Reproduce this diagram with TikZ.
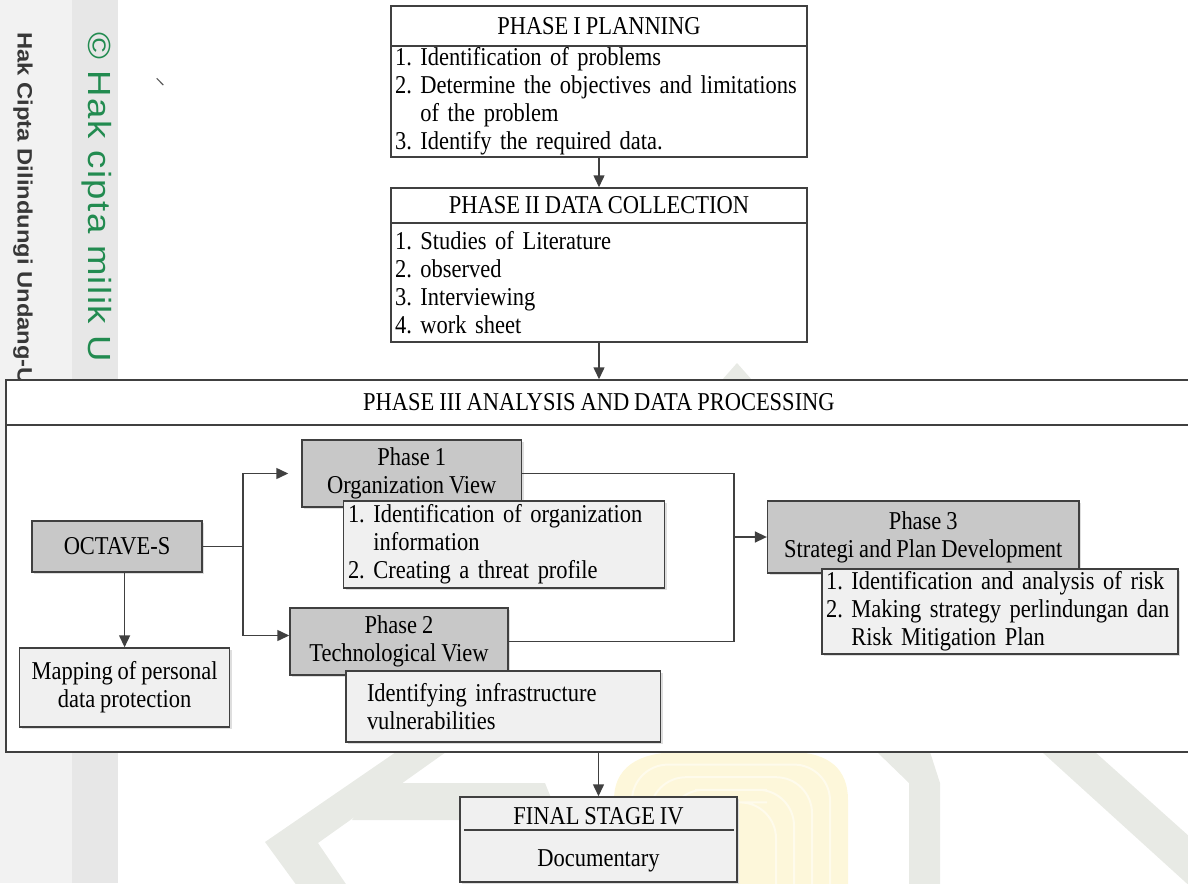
\documentclass[tikz,border=0pt]{standalone}
\usepackage{fontspec}
\setmainfont{Liberation Serif}[FakeStretch=0.875,WordSpace=0.875]
\newfontfamily\hakfont{Liberation Sans}[FakeStretch=1.143]
\newfontfamily\milikfont{Liberation Sans}[FakeStretch=1.143,LetterSpace=4.5]
\usetikzlibrary{arrows.meta,shadows,calc}
\frenchspacing

\definecolor{linegray}{HTML}{404040}
\definecolor{darkfill}{HTML}{C8C8C8}
\definecolor{lightfill}{HTML}{F0F0F0}
\definecolor{stripA}{HTML}{F2F2F2}
\definecolor{stripB}{HTML}{E7E7E7}
\definecolor{wmgray}{HTML}{E8EAE5}
\definecolor{wmyellow}{HTML}{FDF7DA}
\definecolor{hakgreen}{RGB}{34,139,80}

\tikzset{
  txt/.style={font=\fontsize{12.85}{14}\selectfont, text=black},
  box/.style={txt, draw=linegray, line width=0.75pt, inner sep=0pt},
  boxshadow/.style={drop shadow={shadow xshift=1.2pt, shadow yshift=-1.2pt, opacity=1, fill=black!13}},
  darkbox/.style={box, fill=darkfill, boxshadow, align=center},
  lightbox/.style={box, fill=lightfill, boxshadow},
  whitebox/.style={box, fill=white},
  arr/.style={draw=linegray, line width=0.75pt, -{Triangle[length=6pt,width=5.5pt]}},
  wire/.style={draw=linegray, line width=0.75pt},
}

\begin{document}
\begin{tikzpicture}[x=0.5pt, y=-0.5pt]
\path[use as bounding box, clip] (0,0) rectangle (1188,883);

%% watermark
\fill[stripA] (0,0) rectangle (72,883);
\fill[stripB] (72,0) rectangle (118,883);
\fill[wmgray] (396,752) -- (446,752) -- (318,843) -- (350,890) -- (300,890) -- (265,842) -- cycle;
\fill[wmgray] (380,783) -- (545,783) -- (560,820) -- (352,820) -- cycle;
\fill[wmgray] (877,752) -- (930,752) -- (940,783) -- (940,890) -- (909,890) -- (909,783) -- cycle;
\fill[wmgray] (1042,752) -- (1095,752) -- (1200,846) -- (1200,890) -- (1194,890) -- cycle;
\fill[wmgray] (722,380) -- (737,363) -- (752,380) -- cycle;
\fill[wmyellow] (614,890) -- (614,800) .. controls (614,760) and (650,752) .. (680,752)
  -- (790,752) .. controls (830,752) and (848,770) .. (848,800) -- (848,890) -- cycle;
\foreach \d in {18,36,54,72}
  \draw[white, line width=1pt, opacity=.5, rounded corners=18pt]
    ({614+\d},900) |- (731,{752+0.7*\d}) -| ({848-\d},900);
\draw[black!65, line width=0.6pt] (156.7,78.3) -- (163.3,85);

\node[rotate=-90, anchor=west, inner sep=0pt, text=black!78,
  font=\hakfont\bfseries\fontsize{10.4}{12}\selectfont] (hak) at (23,32) {Hak Cipta Dilindungi Undang-U};
\node[rotate=-90, anchor=west, inner sep=0pt, text=hakgreen,
  font=\milikfont\fontsize{16}{18}\selectfont] (milik) at (97,32) {\textcopyright{} Hak cipta milik U};

%% phase I and II
\node[whitebox, minimum width=208pt, minimum height=20pt] (p1title) at (599,26) {PHASE I PLANNING};
\node[whitebox, minimum width=208pt, minimum height=55.5pt, text width=204pt, inner xsep=2pt, align=left] (p1body) at (599,101.5)
  {1. Identification of problems\\2. Determine the objectives and limitations\\\hphantom{2. }of the problem\\3. Identify the required data.};
\node[whitebox, minimum width=208pt, minimum height=17.5pt] (p2title) at (599,205.5) {PHASE II DATA COLLECTION};
\node[whitebox, minimum width=208pt, minimum height=59.5pt, text width=204pt, inner xsep=2pt, align=left] (p2body) at (599,282.5)
  {1. Studies of Literature\\2. observed\\3. Interviewing\\4. work sheet};

%% phase III frame
\node[whitebox, minimum width=593pt, minimum height=22.5pt] (p3title) at (599,402.5) {PHASE III ANALYSIS AND DATA PROCESSING};
\node[whitebox, minimum width=593pt, minimum height=163.5pt] (p3body) at (599,588.5) {};

%% octave-s
\node[darkbox, minimum width=85pt, minimum height=25.5pt] (octave) at (117,546.5) {OCTAVE-S};
\node[lightbox, minimum width=105pt, minimum height=39.5pt, align=center] (map) at (124.6,687.5)
  {Mapping of personal\\data protection};

%% phase 1, 2, 3
\node[darkbox, minimum width=109.8pt, minimum height=33.5pt] (ph1) at (411.8,473.5) {Phase 1\\Organization View};
\node[lightbox, minimum width=160.4pt, minimum height=43.5pt, text width=156.1pt, inner xsep=2.15pt, align=left] (ph1d) at (504.1,544.5)
  {1. Identification of organization\\\hphantom{1. }information\\2. Creating a threat profile};
\node[darkbox, minimum width=109pt, minimum height=33.5pt] (ph2) at (399,641.5) {Phase 2\\Technological View};
\node[lightbox, minimum width=157.35pt, minimum height=35.5pt, text width=153.35pt, inner xsep=2pt, align=left] (ph2d) at (503.35,706.5)
  {\hspace*{8.5pt}Identifying infrastructure\\\hspace*{8.5pt}vulnerabilities};
\node[darkbox, minimum width=155.7pt, minimum height=36pt] (ph3) at (923.3,537) {Phase 3\\Strategi and Plan Development};
\node[lightbox, minimum width=178pt, minimum height=42.5pt, text width=174pt, inner xsep=2pt, align=left] (ph3d) at (1000,611.5)
  {1. Identification and analysis of risk\\2. Making strategy perlindungan dan\\\hphantom{2. }Risk Mitigation Plan};

%% final stage
\node[lightbox, minimum width=138.5pt, minimum height=42.5pt, align=center] (final) at (598.5,839.5)
  {FINAL STAGE IV\\[7pt]Documentary};
\draw[draw=linegray, line width=1.1pt] ($(final.north west)+(5,34)$) -- ($(final.north east)+(-4,34)$);

%% connectors
\draw[arr] (p1body.south) -- (p2title.north);
\draw[arr] (p2body.south) -- (p3title.north);
\coordinate (fork) at (243,546.5);
\draw[wire] (octave.east) -- (fork);
\draw[arr, shorten >=6.5pt] (fork) |- (ph1.west);
\draw[arr] (fork) |- ($(ph2.west)+(0,-6)$);
\draw[arr] (octave.south -| map.north) -- (map.north);
\coordinate (join) at (734,537);
\draw[wire] (ph1.east) -| (join) |- (ph2.east);
\draw[arr] (join) -- (ph3.west);
\draw[arr] (final.north |- p3body.south) -- (final.north);
\end{tikzpicture}
\end{document}
